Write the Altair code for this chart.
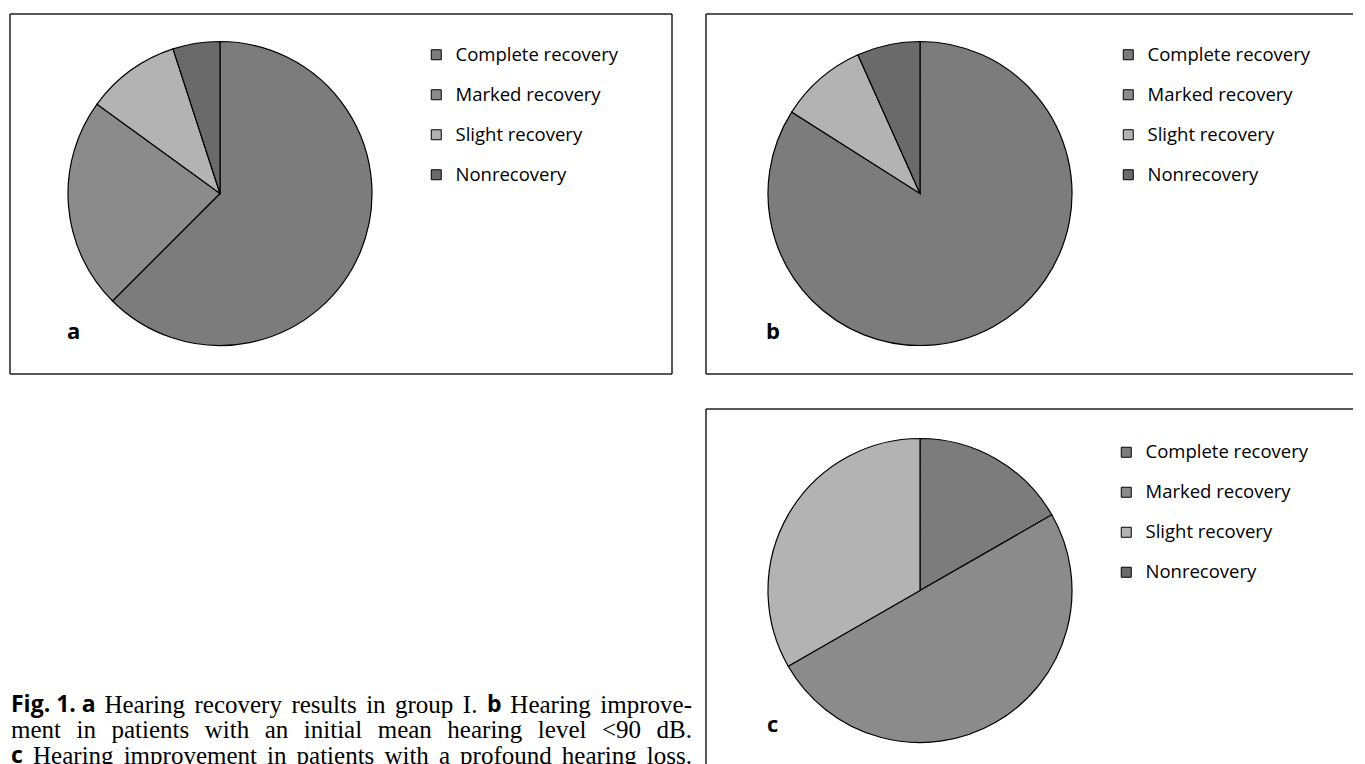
import altair as alt
import pandas as pd

categories = ["Complete recovery", "Marked recovery", "Slight recovery", "Nonrecovery"]
a_values = [62.5, 22.5, 10.0, 5.0]
b_values = [84.0, 0.0, 9.3, 6.7]
c_values = [16.7, 50.0, 33.3, 0.0]
slice_colors = ["#7c7c7c", "#8b8b8b", "#b3b3b3", "#6a6a6a"]

caption_line1 = [("Fig. 1. a", "bold"), ("Hearing recovery results in group I.", "serif"),
                 ("b", "bold"), ("Hearing improve-", "serif")]
caption_line2 = [("ment in patients with an initial mean hearing level <90 dB.", "serif")]
caption_line3 = [("c", "bold"), ("Hearing improvement in patients with a profound hearing loss.", "serif")]

SANS = "Open Sans"
SERIF = "Liberation Serif"
SERIF_SIZE = 25
BOLD_SIZE = 23

W_A, W_B, H = 662, 647, 360

# Times-compatible advance widths (per 1000 em) used only to justify caption lines
TIMES = {" ": 250, ".": 250, "-": 333, "<": 564, "B": 667, "H": 722, "I": 333,
         "a": 444, "b": 500, "c": 444, "d": 500, "e": 444, "f": 333, "g": 500, "h": 500,
         "i": 278, "j": 278, "k": 500, "l": 278, "m": 778, "n": 500, "o": 500, "p": 500,
         "q": 500, "r": 333, "s": 389, "t": 278, "u": 500, "v": 500, "w": 722, "x": 500,
         "y": 500, "z": 444}
BOLD_W = {"Fig. 1. a": 84, "b": 14, "c": 12}


def rule(**enc):
    return alt.Chart(pd.DataFrame({"k": [0]})).mark_rule(color="#222222", strokeWidth=1.5).encode(**enc)


def border(sides, w, h):
    layers = []
    if "top" in sides:
        layers.append(rule(x=alt.value(0), x2=alt.value(w), y=alt.value(0)))
    if "left" in sides:
        layers.append(rule(x=alt.value(0), y=alt.value(0), y2=alt.value(h)))
    if "bottom" in sides:
        layers.append(rule(x=alt.value(0), x2=alt.value(w), y=alt.value(h)))
    if "right" in sides:
        layers.append(rule(x=alt.value(w), y=alt.value(0), y2=alt.value(h)))
    return layers


def pie(values, label, legend_x, legend_y, cx, cy, lx, ly, w, h, sides):
    df = pd.DataFrame({"category": categories, "value": values, "idx": list(range(len(categories)))})
    base = alt.Chart(df).transform_filter("datum.value > 0")
    arc = base.mark_arc(radius=152, stroke="black", strokeWidth=1.2).encode(
        theta=alt.Theta("value:Q", stack=True),
        order=alt.Order("idx:Q"),
        color=alt.Color(
            "category:N",
            sort=categories,
            scale=alt.Scale(domain=categories, range=slice_colors),
            legend=alt.Legend(
                title=None,
                orient="none",
                legendX=legend_x,
                legendY=legend_y,
                padding=0,
                symbolType="square",
                symbolSize=100,
                symbolStrokeColor="black",
                symbolStrokeWidth=1,
                labelFont=SANS,
                labelFontSize=18.5,
                labelColor="black",
                labelOffset=10,
                labelLimit=400,
                rowPadding=21,
            ),
        ),
        x=alt.value(cx),
        y=alt.value(cy),
    )
    lab = alt.Chart(pd.DataFrame({"t": [label]})).mark_text(
        font=SANS, fontSize=22, fontWeight="bold", color="black", align="left", baseline="middle"
    ).encode(text="t:N", x=alt.value(lx), y=alt.value(ly))
    return alt.layer(arc, lab, *border(sides, w, h)).properties(width=w, height=h)


pa = pie(a_values, "a", 417, 31.5, 210, 179.5, 57, 318, W_A, H, ["top", "left", "bottom", "right"])
pb = pie(b_values, "b", 413, 31.5, 214, 179.5, 60, 318, W_B, H, ["top", "left", "bottom"])
pc = pie(c_values, "c", 411, 34, 214, 181.5, 61, 316, W_B, H, ["top", "left"])


def word_width(word, kind):
    if kind == "bold":
        return BOLD_W.get(word, 0.6 * BOLD_SIZE * len(word))
    return sum(TIMES.get(ch, 500) for ch in word) * SERIF_SIZE / 1000.0


def justified(items, y, start, end):
    words = []
    for text, kind in items:
        if kind == "bold":
            words.append((text, kind))
        else:
            words.extend((w, kind) for w in text.split(" "))
    widths = [word_width(w, k) for w, k in words]
    gap = (end - start - sum(widths)) / (len(words) - 1)
    layers = []
    x = start
    for (w, k), wd in zip(words, widths):
        layers.append(alt.Chart(pd.DataFrame({"t": [w]})).mark_text(
            font=SANS if k == "bold" else SERIF,
            fontSize=BOLD_SIZE if k == "bold" else SERIF_SIZE,
            fontWeight="bold" if k == "bold" else "normal",
            color="black", align="left", baseline="middle",
        ).encode(text="t:N", x=alt.value(x), y=alt.value(y)))
        x += wd + gap
    return layers


cap = alt.layer(
    *justified(caption_line1, 296, 1, 682),
    *justified(caption_line2, 321, 1, 682),
    *justified(caption_line3, 347, 1, 682),
).properties(width=W_A, height=H)

chart = alt.concat(pa, pb, cap, pc, columns=2, spacing={"row": 35, "column": 34}, bounds="flush").resolve_scale(
    color="independent"
).resolve_legend(color="independent").configure_view(
    stroke="transparent"
).properties(
    padding={"left": 0, "top": 4, "right": 0, "bottom": 0}, background="white"
)

chart.save("out.html", embed_options={"renderer": "svg", "actions": False})
